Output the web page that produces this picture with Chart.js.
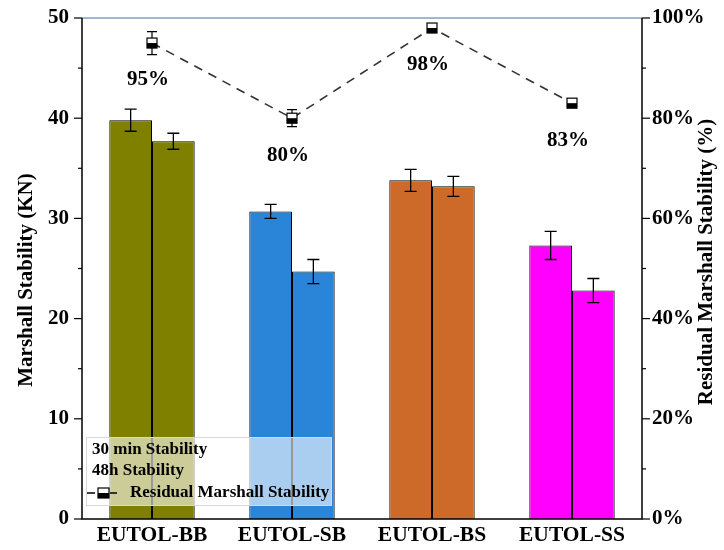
<!DOCTYPE html>
<html>
<head>
<meta charset="utf-8">
<script src="https://cdn.jsdelivr.net/npm/chart.js@4.4.1/dist/chart.umd.min.js"></script>
<style>
  html, body { margin: 0; padding: 0; background: #fff; }
  #wrap { width: 724px; height: 550px; }
</style>
</head>
<body>
<div id="wrap"><canvas id="c" width="724" height="550"></canvas></div>
<script>
// Mixtures
const categories = ['EUTOL-BB', 'EUTOL-SB', 'EUTOL-BS', 'EUTOL-SS'];
// Marshall stability (kN) and standard deviations
const stability30min = [39.8, 30.7, 33.8, 27.3];
const stability30minErr = [1.1, 0.7, 1.1, 1.4];
const stability48h = [37.7, 24.7, 33.2, 22.8];
const stability48hErr = [0.8, 1.2, 1.0, 1.2];
// Residual Marshall stability (%)
const residual = [95, 80, 98, 83];
const residualErr = [2.3, 1.7, 0.6, 0.6];
const residualLabels = ['95%', '80%', '98%', '83%'];
// Bar colours per mixture
const barColors = ['#808000', '#2a84d8', '#cd6a2a', '#ff00ff'];
// Tick labels
const leftTicks = [0, 10, 20, 30, 40, 50];
const rightTicks = [0, 20, 40, 60, 80, 100];

const FONT = "'Liberation Serif', 'Times New Roman', serif";

const decorPlugin = {
  id: 'decor',
  afterDatasetsDraw(chart) {
    const ctx = chart.ctx;
    const y = chart.scales.y, y2 = chart.scales.y2;
    ctx.save();
    ctx.strokeStyle = '#000';
    ctx.lineWidth = 1.3;
    // bar error bars
    [[0, stability30min, stability30minErr], [1, stability48h, stability48hErr]].forEach(([di, vals, errs]) => {
      const meta = chart.getDatasetMeta(di);
      meta.data.forEach((el, i) => {
        const x = el.x;
        const yt = y.getPixelForValue(vals[i] + errs[i]);
        const yb = y.getPixelForValue(vals[i] - errs[i]);
        ctx.beginPath();
        ctx.moveTo(x, yt); ctx.lineTo(x, yb);
        ctx.moveTo(x - 6, yt); ctx.lineTo(x + 6, yt);
        ctx.moveTo(x - 6, yb); ctx.lineTo(x + 6, yb);
        ctx.stroke();
      });
    });
    // residual markers with error bars
    const lmeta = chart.getDatasetMeta(2);
    lmeta.data.forEach((el, i) => {
      const x = el.x, yc = el.y;
      const yt = y2.getPixelForValue(residual[i] + residualErr[i]);
      const yb = y2.getPixelForValue(residual[i] - residualErr[i]);
      ctx.lineWidth = 1.2;
      ctx.beginPath();
      ctx.moveTo(x, yt); ctx.lineTo(x, yb);
      ctx.moveTo(x - 5, yt); ctx.lineTo(x + 5, yt);
      ctx.moveTo(x - 5, yb); ctx.lineTo(x + 5, yb);
      ctx.stroke();
      const s = 10;
      ctx.fillStyle = '#fff';
      ctx.fillRect(x - s / 2, yc - s / 2, s, s);
      ctx.fillStyle = '#000';
      ctx.fillRect(x - s / 2, yc, s, s / 2);
      ctx.lineWidth = 1.2;
      ctx.strokeRect(x - s / 2, yc - s / 2, s, s);
      // value label
      ctx.font = 'bold 21px ' + FONT;
      ctx.textAlign = 'center';
      ctx.textBaseline = 'middle';
      ctx.fillText(residualLabels[i], x - 4, yc + 37);
    });
    ctx.restore();
  },
  afterDraw(chart) {
    const ctx = chart.ctx;
    const a = chart.chartArea;
    const y = chart.scales.y, y2 = chart.scales.y2;
    ctx.save();
    // frame lines
    ctx.strokeStyle = '#7f9fc6';
    ctx.lineWidth = 1.5;
    ctx.beginPath(); ctx.moveTo(a.left, a.top); ctx.lineTo(a.right, a.top); ctx.stroke();
    ctx.strokeStyle = '#000';
    ctx.lineWidth = 1.5;
    ctx.beginPath();
    ctx.moveTo(a.left, a.top); ctx.lineTo(a.left, a.bottom); ctx.lineTo(a.right, a.bottom); ctx.lineTo(a.right, a.top);
    ctx.stroke();
    // major and minor ticks
    ctx.lineWidth = 1.2;
    for (let v = 0; v <= 50; v += 5) {
      const p = y.getPixelForValue(v);
      const len = v % 10 === 0 ? 8 : 4;
      ctx.beginPath(); ctx.moveTo(a.left - len, p); ctx.lineTo(a.left, p); ctx.stroke();
    }
    for (let v = 0; v <= 100; v += 10) {
      const p = y2.getPixelForValue(v);
      const len = v % 20 === 0 ? 8 : 4;
      ctx.beginPath(); ctx.moveTo(a.right, p); ctx.lineTo(a.right + len, p); ctx.stroke();
    }
    // axis titles, both reading bottom to top
    ctx.fillStyle = '#000';
    ctx.font = 'bold 21px ' + FONT;
    ctx.textAlign = 'center';
    ctx.textBaseline = 'middle';
    ctx.save();
    ctx.translate(27, 280);
    ctx.rotate(-Math.PI / 2);
    ctx.fillText('Marshall Stability (KN)', 0, 0);
    ctx.restore();
    ctx.save();
    ctx.translate(707, 262);
    ctx.rotate(-Math.PI / 2);
    ctx.fillText('Residual Marshall Stability (%)', 0, 0);
    ctx.restore();
    // legend box
    const lx = 86, ly = 437, lw = 245, lh = 68;
    ctx.fillStyle = 'rgba(255,255,255,0.6)';
    ctx.fillRect(lx, ly, lw, lh);
    ctx.strokeStyle = '#d8d8d8';
    ctx.lineWidth = 1;
    ctx.strokeRect(lx + 0.5, ly + 0.5, lw, lh);
    ctx.fillStyle = '#000';
    ctx.font = 'bold 17px ' + FONT;
    ctx.textAlign = 'left';
    ctx.textBaseline = 'middle';
    ctx.fillText('30 min Stability', 92, 450);
    ctx.fillText('48h Stability', 92, 471);
    ctx.fillText('Residual Marshall Stability', 130, 493);
    ctx.strokeStyle = '#000';
    ctx.lineWidth = 1.5;
    ctx.beginPath(); ctx.moveTo(87, 493); ctx.lineTo(95, 493); ctx.moveTo(110, 493); ctx.lineTo(117, 493); ctx.stroke();
    ctx.fillStyle = '#fff';
    ctx.fillRect(98, 488, 11, 10);
    ctx.fillStyle = '#000';
    ctx.fillRect(98, 493, 11, 5);
    ctx.lineWidth = 1.2;
    ctx.strokeRect(98, 488, 11, 10);
    ctx.restore();
  }
};

// vertical axes: fixed width, no extra room reserved for end labels
function fitVertical(s) {
  s.width = 82;
  s.paddingTop = 0;
  s.paddingBottom = 0;
}

new Chart(document.getElementById('c'), {
  data: {
    labels: categories,
    datasets: [
      {
        type: 'bar', label: '30 min Stability', data: stability30min,
        backgroundColor: barColors, borderColor: '#000', borderWidth: 1,
        yAxisID: 'y', order: 2, categoryPercentage: 0.61, barPercentage: 1.0
      },
      {
        type: 'bar', label: '48h Stability', data: stability48h,
        backgroundColor: barColors, borderColor: '#000', borderWidth: 1,
        yAxisID: 'y', order: 2, categoryPercentage: 0.61, barPercentage: 1.0
      },
      {
        type: 'line', label: 'Residual Marshall Stability', data: residual,
        borderColor: '#333', borderWidth: 1.6, borderDash: [9, 7],
        pointRadius: 0, fill: false, tension: 0, yAxisID: 'y2', order: 1
      }
    ]
  },
  options: {
    responsive: false,
    animation: false,
    layout: { padding: { top: 18, right: 0, left: 0, bottom: 0 } },
    plugins: { legend: { display: false }, tooltip: { enabled: false } },
    scales: {
      x: {
        grid: { display: false, drawTicks: false },
        border: { display: false },
        ticks: { color: '#000', font: { family: FONT, size: 21.5, weight: 'bold' }, padding: 4 },
        afterFit(s) { s.height = 31; s.paddingLeft = 0; s.paddingRight = 0; }
      },
      y: {
        position: 'left', min: 0, max: 50,
        afterBuildTicks(s) { s.ticks = leftTicks.map(v => ({ value: v })); },
        grid: { display: false, drawTicks: false },
        border: { display: false },
        ticks: { color: '#000', font: { family: FONT, size: 21, weight: 'bold' }, padding: 13 },
        afterFit: fitVertical
      },
      y2: {
        position: 'right', min: 0, max: 100,
        afterBuildTicks(s) { s.ticks = rightTicks.map(v => ({ value: v })); },
        grid: { display: false, drawTicks: false },
        border: { display: false },
        ticks: { color: '#000', font: { family: FONT, size: 21, weight: 'bold' }, padding: 10, callback: v => v + '%' },
        afterFit: fitVertical
      }
    }
  },
  plugins: [decorPlugin]
});
</script>
</body>
</html>
